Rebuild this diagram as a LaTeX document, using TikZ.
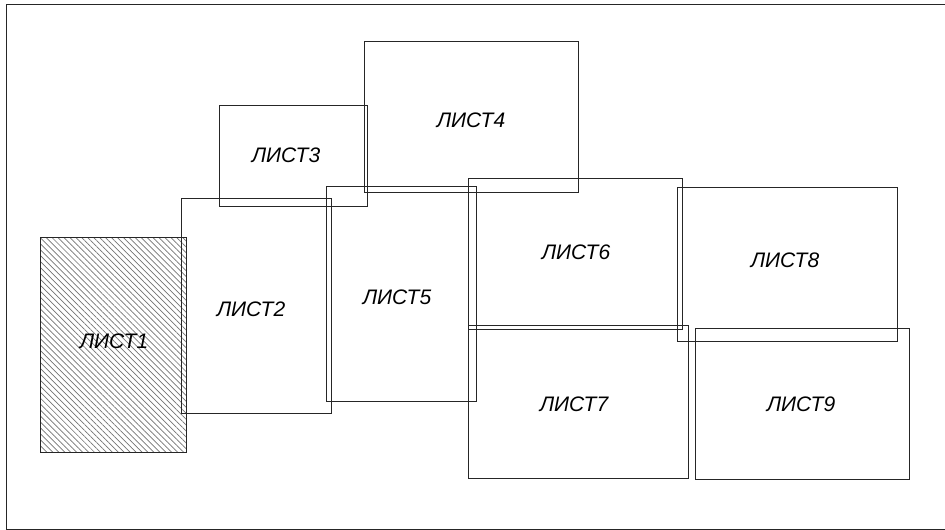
\documentclass[tikz,border=0pt]{standalone}
\usepackage{fontspec}
\setmainfont{Liberation Sans}
\usetikzlibrary{patterns.meta}
\begin{document}
\begin{tikzpicture}[x=1pt,y=-1pt,
  sheet/.style={draw=black!85,line width=0.9pt},
  hatched/.style={pattern={Lines[angle=-45,distance=4.2pt,line width=0.7pt]},pattern color=black!55},
  lbl/.style={inner sep=0pt,text height=15pt,text depth=0pt,font=\fontsize{21}{21}\selectfont\itshape}]
\useasboundingbox (0,0) rectangle (945,530);
\draw[line width=0.9pt,draw=black!85] (950,4) -- (6,4) -- (6,529) -- (950,529);
% sheets
\draw[sheet,hatched] (40,237) rectangle (186,452);
\coordinate (s1) at (113,344);
\draw[sheet] (181,198) rectangle (331,413);
\draw[sheet] (219,105) rectangle (367,206);
\draw[sheet] (364,41) rectangle (578,192);
\draw[sheet] (326,186) rectangle (476,401);
\draw[sheet] (468,178) rectangle (682,329);
\draw[sheet] (468,325) rectangle (688,478);
\draw[sheet] (677,187) rectangle (897,341);
\draw[sheet] (695,328) rectangle (909,479);
% labels
\node[lbl] (l1) at (114,341) {ЛИСТ1};
\node[lbl] (l2) at (251,309) {ЛИСТ2};
\node[lbl] (l3) at (286,155) {ЛИСТ3};
\node[lbl] (l4) at (471,120) {ЛИСТ4};
\node[lbl] (l5) at (397,297) {ЛИСТ5};
\node[lbl] (l6) at (576,252) {ЛИСТ6};
\node[lbl] (l7) at (574,404) {ЛИСТ7};
\node[lbl] (l8) at (785,260) {ЛИСТ8};
\node[lbl] (l9) at (801,404) {ЛИСТ9};
\end{tikzpicture}
\end{document}
